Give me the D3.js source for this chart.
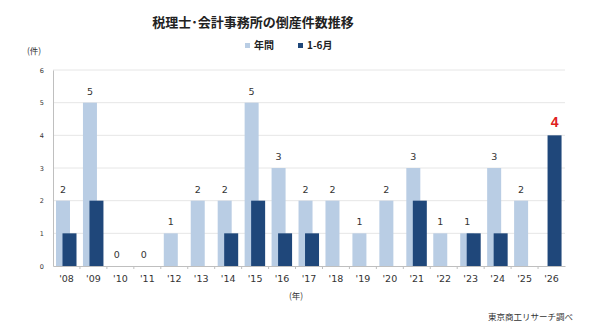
<!DOCTYPE html>
<html>
<head>
<meta charset="utf-8">
<script src="https://cdn.jsdelivr.net/npm/d3@7"></script>
<style>
  body { margin: 0; background: #fff; }
  svg { display: block; }
</style>
</head>
<body>
<div id="chart"></div>
<script>
var years = ["'08", "'09", "'10", "'11", "'12", "'13", "'14", "'15", "'16", "'17", "'18", "'19", "'20", "'21", "'22", "'23", "'24", "'25", "'26"];
var annual = [2, 5, 0, 0, 1, 2, 2, 5, 3, 2, 2, 1, 2, 3, 1, 1, 3, 2, null];
var firstHalf = [1, 2, 0, 0, 0, 0, 1, 2, 1, 1, 0, 0, 0, 2, 0, 1, 1, 0, 4];
var yTicks = [0, 1, 2, 3, 4, 5, 6];

var width = 600, height = 329;
var margin = { top: 70, right: 35, bottom: 63, left: 53 };

var lightColor = "#b9cde4";
var darkColor = "#1f477a";
var numFont = "'DejaVu Sans', Verdana, sans-serif";
var jpFont = "'Noto Sans CJK JP', sans-serif";

var svg = d3.select("#chart").append("svg")
  .attr("width", width)
  .attr("height", height);

var x = d3.scaleBand()
  .domain(years)
  .range([margin.left, width - margin.right]);

var y = d3.scaleLinear()
  .domain([0, 6])
  .range([height - margin.bottom, margin.top]);

// gridlines
svg.append("g")
  .selectAll("line")
  .data(yTicks.slice(1))
  .join("line")
  .attr("x1", margin.left)
  .attr("x2", width - margin.right)
  .attr("y1", d => y(d))
  .attr("y2", d => y(d))
  .attr("stroke", "#e6e6e6")
  .attr("stroke-width", 1);

// y axis
var yAxis = svg.append("g")
  .attr("transform", "translate(" + margin.left + ",0)")
  .call(d3.axisLeft(y).tickValues(yTicks).tickFormat(d3.format("d")).tickSize(0).tickPadding(9));
yAxis.select(".domain").attr("stroke", "#bfbfbf");
yAxis.selectAll("text")
  .attr("font-family", numFont)
  .attr("font-size", 6.5)
  .attr("fill", "#333");

var bw = 14;

// annual bars
svg.append("g")
  .selectAll("rect")
  .data(years)
  .join("rect")
  .attr("x", d => x(d) + 3)
  .attr("y", (d, i) => y(annual[i] || 0))
  .attr("width", bw)
  .attr("height", (d, i) => y(0) - y(annual[i] || 0))
  .attr("fill", lightColor);

// first half bars
svg.append("g")
  .selectAll("rect")
  .data(years)
  .join("rect")
  .attr("x", d => x(d) + 9.5)
  .attr("y", (d, i) => y(firstHalf[i]))
  .attr("width", bw)
  .attr("height", (d, i) => y(0) - y(firstHalf[i]))
  .attr("fill", darkColor);

// x axis
var xAxis = svg.append("g")
  .attr("transform", "translate(0," + y(0) + ")")
  .call(d3.axisBottom(x).tickSize(0).tickPadding(9));
xAxis.select(".domain").attr("stroke", "#bfbfbf");
xAxis.selectAll("text")
  .attr("font-family", numFont)
  .attr("font-size", 9.5)
  .attr("fill", "#333");
svg.append("g")
  .selectAll("line")
  .data(years.slice(1))
  .join("line")
  .attr("x1", d => x(d))
  .attr("x2", d => x(d))
  .attr("y1", y(0))
  .attr("y2", y(0) + 3)
  .attr("stroke", "#bfbfbf");

// annual value labels
svg.append("g")
  .selectAll("text")
  .data(years.filter((d, i) => annual[i] !== null))
  .join("text")
  .attr("x", d => x(d) + 3 + bw / 2)
  .attr("y", d => y(annual[years.indexOf(d)]) - 8)
  .attr("text-anchor", "middle")
  .attr("font-family", numFont)
  .attr("font-size", 9.5)
  .attr("fill", "#333")
  .text(d => annual[years.indexOf(d)]);

// highlight latest
var last = years.length - 1;
svg.append("text")
  .attr("x", x(years[last]) + 9.5 + bw / 2)
  .attr("y", y(firstHalf[last]) - 8)
  .attr("text-anchor", "middle")
  .attr("font-family", "'Liberation Sans', Arial, sans-serif")
  .attr("font-weight", "bold")
  .attr("font-size", 14)
  .attr("fill", "#e02020")
  .text(firstHalf[last]);

// title
svg.append("text")
  .attr("x", 253)
  .attr("y", 27)
  .attr("text-anchor", "middle")
  .attr("font-family", jpFont)
  .attr("font-weight", "bold")
  .attr("font-size", 13)
  .attr("fill", "#222")
  .text("税理士･会計事務所の倒産件数推移");

// legend
var legend = [
  { name: "年間", color: lightColor, x: 245 },
  { name: "1-6月", color: darkColor, x: 298 }
];
var lg = svg.append("g")
  .selectAll("g")
  .data(legend)
  .join("g")
  .attr("transform", d => "translate(" + d.x + ",48)");
lg.append("rect")
  .attr("x", 0)
  .attr("y", -5)
  .attr("width", 5)
  .attr("height", 5)
  .attr("fill", d => d.color);
lg.append("text")
  .attr("x", 9)
  .attr("y", 0.5)
  .attr("font-family", jpFont)
  .attr("font-weight", "bold")
  .attr("font-size", 10)
  .attr("fill", "#222")
  .text(d => d.name);

// axis units
svg.append("text")
  .attr("x", 34)
  .attr("y", 54)
  .attr("text-anchor", "middle")
  .attr("font-family", jpFont)
  .attr("font-size", 8.5)
  .attr("fill", "#333")
  .text("(件)");
svg.append("text")
  .attr("x", 296)
  .attr("y", 299)
  .attr("text-anchor", "middle")
  .attr("font-family", jpFont)
  .attr("font-size", 8.5)
  .attr("fill", "#333")
  .text("(年)");

// source
svg.append("text")
  .attr("x", 573)
  .attr("y", 320)
  .attr("text-anchor", "end")
  .attr("font-family", jpFont)
  .attr("font-size", 8.5)
  .attr("fill", "#333")
  .text("東京商工リサーチ調べ");
</script>
</body>
</html>
